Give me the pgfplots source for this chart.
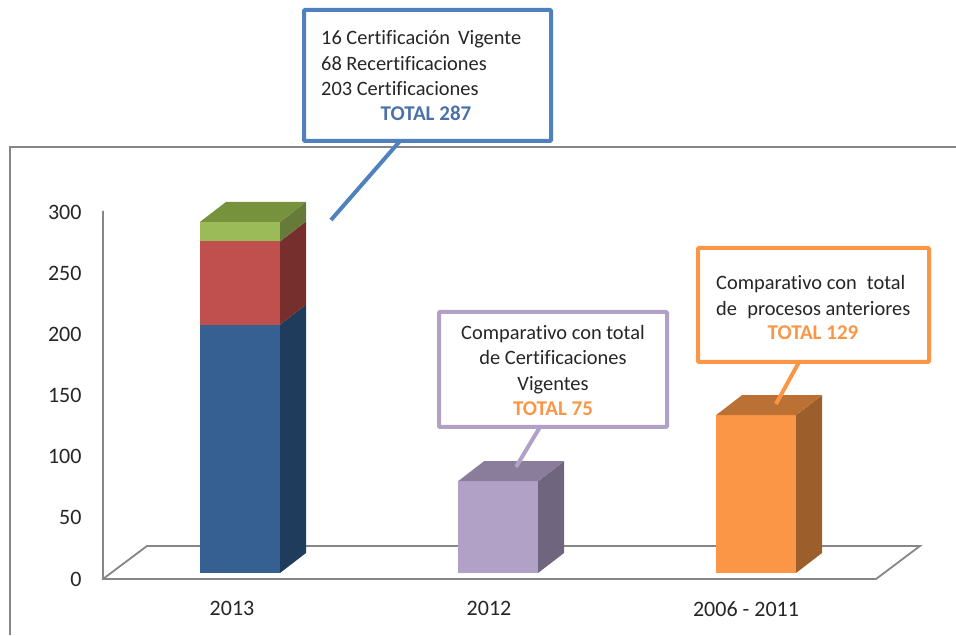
\documentclass[border=0pt]{standalone}
\usepackage{fontspec}
\setmainfont[Ligatures=NoCommon]{Carlito}
\usepackage{pgfplots}
\pgfplotsset{compat=1.18}
\definecolor{txt}{HTML}{262626}
\definecolor{framegray}{HTML}{868686}
\definecolor{cblue}{HTML}{376092}
\definecolor{cblueS}{HTML}{203C5C}
\definecolor{cred}{HTML}{C0504D}
\definecolor{credS}{HTML}{772F2D}
\definecolor{cgreen}{HTML}{9BBB59}
\definecolor{cgreenS}{HTML}{667A3A}
\definecolor{cgreenT}{HTML}{76923C}
\definecolor{cpurple}{HTML}{B2A1C7}
\definecolor{cpurpleS}{HTML}{70657F}
\definecolor{cpurpleT}{HTML}{8A7D9B}
\definecolor{corange}{HTML}{FB9647}
\definecolor{corangeS}{HTML}{9C5E2B}
\definecolor{corangeT}{HTML}{BC7134}
\definecolor{lblue}{HTML}{4F81BD}
\definecolor{tblue}{HTML}{4A72A6}
\newcommand\ctext{\fontsize{20.4}{20.4}\selectfont\color{txt}}
\newcommand\cbold{\fontsize{21}{21}\selectfont\bfseries}
\begin{document}
\begin{tikzpicture}
\begin{scope}[x=1pt,y=-1pt,shift={(-103pt,579pt)}]
\draw[framegray,line width=2pt] (10.5,635) -- (10.5,147) -- (956,147);
\end{scope}
\begin{axis}[
  at={(0pt,0pt)},anchor=south west,
  scale only axis,width=773pt,height=373pt,
  xmin=103,xmax=876,ymin=-4.906,ymax=300,
  clip=false,
  axis line style={draw=none},
  major tick length=0pt,
  xtick={232,489,746},
  xticklabels={2013,2012,2006 - 2011},
  ytick={0,50,100,150,200,250,300},
  /pgf/number format/assume math mode=true,
  tick label style={font=\fontsize{22}{22}\selectfont,text=txt},
  yticklabel style={yshift=-6pt,xshift=-18pt},
  xticklabel style={yshift=-19pt},
]
% walls and floor
\addplot[framegray,line width=1.8pt,mark=none] coordinates {(103,296) (103,-4.906) (876,-4.906) (920,22.08) (147,22.08) (103,-4.906)};
% 2013
\addplot[ybar,bar shift=0pt,bar width=80pt,fill=cgreen,draw=none] coordinates {(240,287)};
\addplot[ybar,bar shift=0pt,bar width=80pt,fill=cred,draw=none] coordinates {(240,271)};
\addplot[ybar,bar shift=0pt,bar width=80pt,fill=cblue,draw=none] coordinates {(240,203)};
\addplot[fill=cblueS,draw=none,mark=none] coordinates {(280,0) (306,16.35) (306,219.35) (280,203)} --cycle;
\addplot[fill=credS,draw=none,mark=none] coordinates {(280,203) (306,219.35) (306,287.35) (280,271)} --cycle;
\addplot[fill=cgreenS,draw=none,mark=none] coordinates {(280,271) (306,287.35) (306,303.35) (280,287)} --cycle;
\addplot[fill=cgreenT,draw=none,mark=none] coordinates {(200,287) (280,287) (306,303.35) (226,303.35)} --cycle;
% 2012
\addplot[ybar,bar shift=0pt,bar width=80pt,fill=cpurple,draw=none] coordinates {(498,75)};
\addplot[fill=cpurpleS,draw=none,mark=none] coordinates {(538,0) (564,16.35) (564,91.35) (538,75)} --cycle;
\addplot[fill=cpurpleT,draw=none,mark=none] coordinates {(458,75) (538,75) (564,91.35) (484,91.35)} --cycle;
% 2006 - 2011
\addplot[ybar,bar shift=0pt,bar width=80pt,fill=corange,draw=none] coordinates {(756,129)};
\addplot[fill=corangeS,draw=none,mark=none] coordinates {(796,0) (822,16.35) (822,145.35) (796,129)} --cycle;
\addplot[fill=corangeT,draw=none,mark=none] coordinates {(716,129) (796,129) (822,145.35) (742,145.35)} --cycle;
\end{axis}
\begin{scope}[x=1pt,y=-1pt,shift={(-103pt,579pt)}]
% callout 1
\draw[lblue,line width=4pt] (400,141) -- (331,220);
\draw[lblue,line width=4pt,fill=white,rounded corners=1pt] (304,10) rectangle (551,141);
\node[anchor=base west,inner sep=0pt,font=\ctext] at (321,45) {16 Certificación\, Vigente};
\node[anchor=base west,inner sep=0pt,font=\ctext] at (321,70.5) {68 Recertificaciones};
\node[anchor=base west,inner sep=0pt,font=\ctext] at (321,96) {203 Certificaciones};
\node[anchor=base,inner sep=0pt,font=\cbold,text=tblue] at (426,121) {TOTAL 287};
% callout 2
\draw[cpurple,line width=4pt] (540,427) -- (516,467);
\draw[cpurple,line width=4pt,fill=white,rounded corners=1pt] (439,312) rectangle (667,427);
\node[anchor=base,inner sep=0pt,font=\ctext] at (553,340) {Comparativo con total};
\node[anchor=base,inner sep=0pt,font=\ctext] at (553,365) {de Certificaciones};
\node[anchor=base,inner sep=0pt,font=\ctext] at (553,391) {Vigentes};
\node[anchor=base,inner sep=0pt,font=\cbold,text=corange] at (553,416) {TOTAL 75};
% callout 3
\draw[corange,line width=4pt] (799,362) -- (776,404);
\draw[corange,line width=4pt,fill=white,rounded corners=1pt] (698,248) rectangle (929,362);
\node[anchor=base west,inner sep=0pt,font=\ctext] at (716,290) {Comparativo con\; total};
\node[anchor=base west,inner sep=0pt,font=\ctext] at (716,316) {de\; procesos anteriores};
\node[anchor=base,inner sep=0pt,font=\cbold,text=corange] at (813,340) {TOTAL 129};
\end{scope}
\pgfresetboundingbox
\path[use as bounding box] (-103pt,-56pt) rectangle (853pt,579pt);
\end{tikzpicture}
\end{document}
